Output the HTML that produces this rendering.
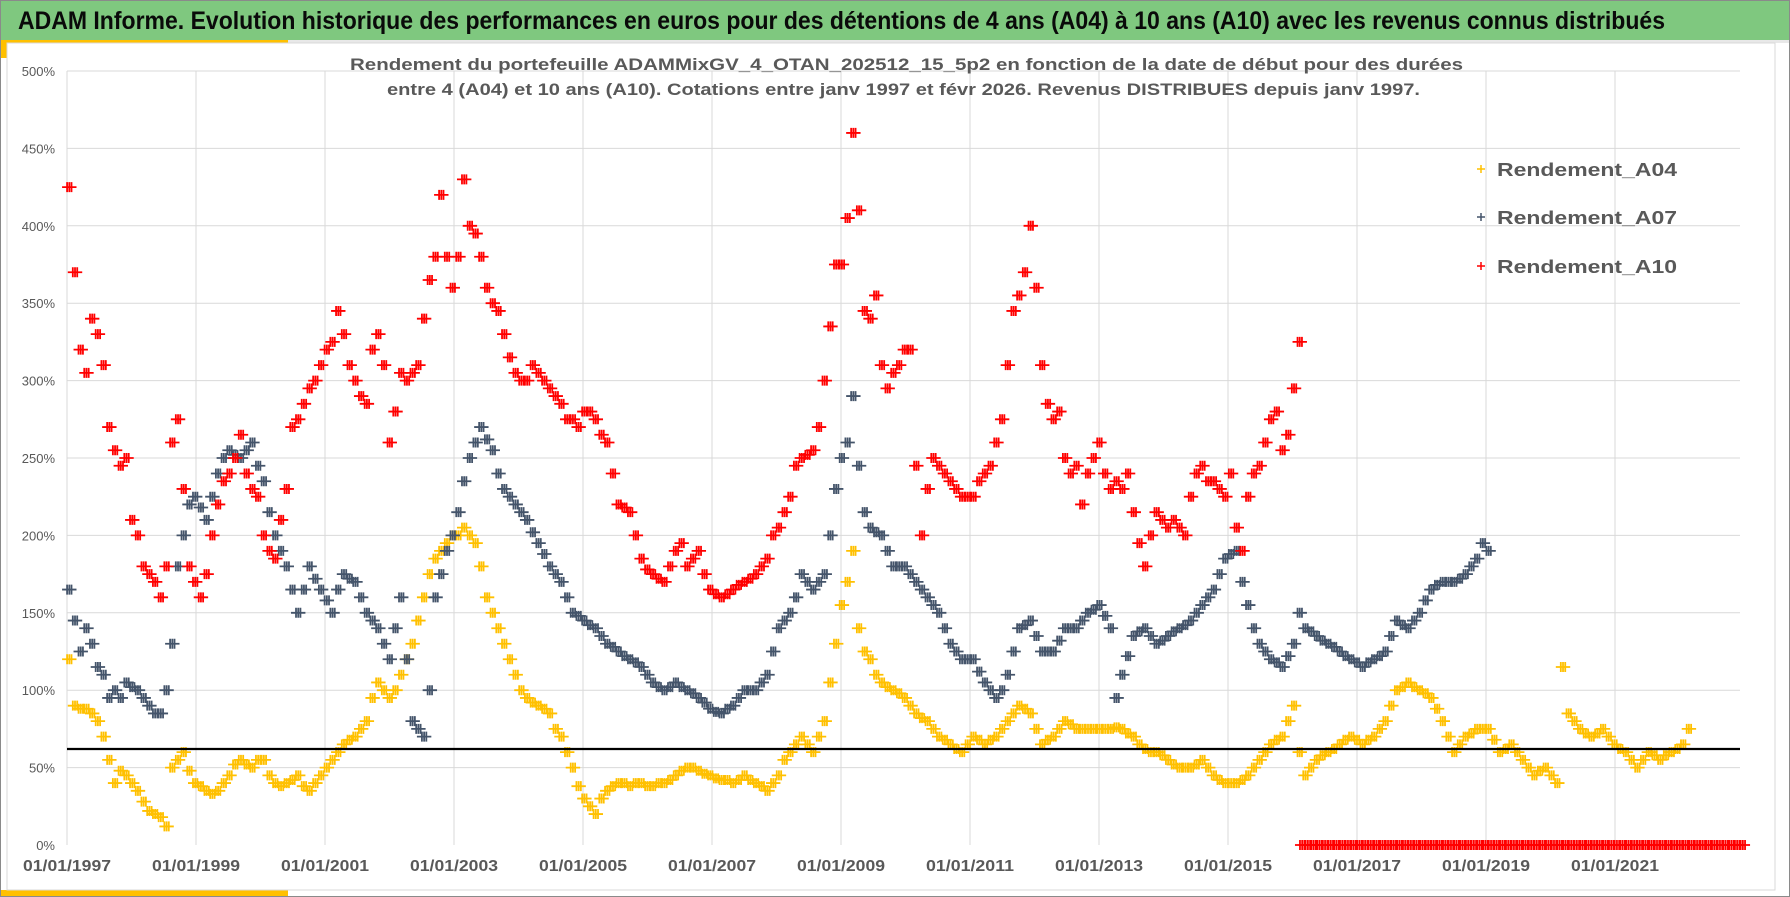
<!DOCTYPE html>
<html><head><meta charset="utf-8">
<style>
html,body{margin:0;padding:0;background:#fff;}
body{width:1790px;height:897px;overflow:hidden;font-family:"Liberation Sans",sans-serif;}
svg{display:block;}
</style></head>
<body>
<svg id="chart" width="1790" height="897" viewBox="0 0 1790 897" xmlns="http://www.w3.org/2000/svg">
  <rect x="0.5" y="0.5" width="1789" height="896" fill="#fff" stroke="#8a8a8a"/>
  <rect x="1" y="1" width="1788" height="39" fill="#7fc87f"/>
  <text x="18" y="29" font-size="25" font-weight="bold" fill="#0a0a0a" textLength="1647" lengthAdjust="spacingAndGlyphs">ADAM Informe. Evolution historique des performances en euros pour des détentions de 4 ans (A04) à 10 ans (A10) avec les revenus connus distribués</text>
  <rect x="1" y="40" width="1788" height="3" fill="#e8e8e8"/>
  <rect x="1" y="40" width="287" height="3" fill="#ffc000"/>
  <rect x="1" y="40" width="6" height="18" fill="#ffc000"/>
  <rect x="1" y="890" width="287" height="6" fill="#ffc000"/>
  <rect x="7" y="43" width="1768" height="847" fill="#fff" stroke="#d9d9d9"/>
  <g id="grid"></g>
  <g id="ylabels"></g>
  <g id="xlabels"></g>
  <text x="350" y="70" font-size="17" font-weight="bold" fill="#595959" textLength="1113" lengthAdjust="spacingAndGlyphs">Rendement du portefeuille ADAMMixGV_4_OTAN_202512_15_5p2  en fonction de la date de début pour des durées</text>
  <text x="387" y="95" font-size="17" font-weight="bold" fill="#595959" textLength="1033" lengthAdjust="spacingAndGlyphs">entre 4 (A04) et 10 ans (A10). Cotations  entre janv 1997 et févr 2026. Revenus DISTRIBUES depuis janv 1997.</text>
  <g id="marks"></g>
  <g id="legend"></g>
</svg>
<script>
// ---- chart data ----
const yTicks = [0,50,100,150,200,250,300,350,400,450,500];
const xTickYears = [1997,1999,2001,2003,2005,2007,2009,2011,2013,2015,2017,2019,2021];
const xTickLabels = ["01/01/1997","01/01/1999","01/01/2001","01/01/2003","01/01/2005","01/01/2007","01/01/2009","01/01/2011","01/01/2013","01/01/2015","01/01/2017","01/01/2019","01/01/2021"];
const seriesNames = ["Rendement_A04","Rendement_A07","Rendement_A10"];
const refLineValue = 62;
const sampleStart = 1997.0355;
const sampleStep = 0.08873;
const zeroStart = 2016.15;
const a04 = [120,90,88,88,85,80,70,55,40,48,45,40,35,28,22,20,18,12,50,55,60,48,40,38,35,33,35,40,45,52,55,52,50,55,55,45,40,38,40,42,45,38,35,40,45,50,55,60,65,68,70,75,80,95,105,100,95,100,110,120,130,145,160,175,185,190,195,200,200,205,200,195,180,160,150,140,130,120,110,100,95,92,90,88,85,75,70,60,50,38,30,25,20,30,35,38,40,40,38,40,40,38,38,40,40,42,45,48,50,50,48,46,45,43,42,42,40,42,45,42,40,38,35,40,45,55,60,65,70,65,60,70,80,105,130,155,170,190,140,125,120,110,105,102,100,98,95,90,85,82,80,75,70,68,65,62,60,65,70,68,65,68,70,75,80,85,90,88,85,75,65,68,70,75,80,78,75,75,75,75,75,75,75,76,75,72,70,65,62,60,60,58,55,52,50,50,50,52,55,50,45,42,40,40,40,42,45,50,55,60,65,68,70,80,90,60,45,50,55,58,60,62,65,68,70,68,65,68,70,75,80,90,100,102,105,102,100,98,95,88,80,70,60,65,70,72,75,75,75,68,60,62,65,60,55,50,45,48,50,45,40,115,85,80,75,72,70,72,75,70,65,62,60,55,50,55,60,58,55,58,60,62,65,75];
const a07 = [165,145,125,140,130,115,110,95,100,95,105,102,100,95,90,85,85,100,130,180,200,220,225,218,210,225,240,250,255,252,250,255,260,245,235,215,200,190,180,165,150,165,180,172,165,158,150,165,175,172,170,160,150,145,140,130,120,140,160,120,80,75,70,100,160,175,190,200,215,235,250,260,270,262,255,240,230,225,220,215,210,202,195,188,180,175,170,160,150,148,145,142,140,135,130,128,125,122,120,118,115,110,105,102,100,102,105,102,100,98,95,92,88,86,85,88,90,95,100,100,100,105,110,125,140,145,150,160,175,170,165,170,175,200,230,250,260,290,245,215,205,202,200,190,180,180,180,175,170,165,160,155,150,140,130,125,120,120,120,112,105,100,95,100,110,125,140,142,145,135,125,125,125,132,140,140,140,145,150,152,155,148,140,95,110,122,135,138,140,135,130,132,135,138,140,142,145,150,155,160,165,175,185,188,190,170,155,140,130,125,120,118,115,122,130,150,140,138,135,132,130,128,125,122,120,118,115,118,120,122,125,135,145,142,140,145,150,158,165,168,170,170,170,172,175,180,185,195,190];
const a10 = [425,370,320,305,340,330,310,270,255,245,250,210,200,180,175,170,160,180,260,275,230,180,170,160,175,200,220,235,240,250,265,240,230,225,200,190,185,210,230,270,275,285,295,300,310,320,325,345,330,310,300,290,285,320,330,310,260,280,305,300,305,310,340,365,380,420,380,360,380,430,400,395,380,360,350,345,330,315,305,300,300,310,305,300,295,290,285,275,275,270,280,280,275,265,260,240,220,218,215,200,185,178,175,172,170,180,190,195,180,185,190,175,165,162,160,162,165,168,170,172,175,180,185,200,205,215,225,245,250,252,255,270,300,335,375,375,405,460,410,345,340,355,310,295,305,310,320,320,245,200,230,250,245,240,235,230,225,225,225,235,240,245,260,275,310,345,355,370,400,360,310,285,275,280,250,240,245,220,240,250,260,240,230,235,230,240,215,195,180,200,215,210,205,210,205,200,225,240,245,235,235,230,225,240,205,190,225,240,245,260,275,280,255,265,295,325];
const a10Zero = [0,0,0,0,0,0,0,0,0,0,0,0,0,0,0,0,0,0,0,0,0,0,0,0,0,0,0,0,0,0,0,0,0,0,0,0,0,0,0,0,0,0,0,0,0,0,0,0,0,0,0,0,0,0,0,0,0,0,0,0,0,0,0,0,0,0,0,0,0,0,0,0,0,0,0,0,0,0];

// ---- axes ----
const X0 = 67, PX_PER_YEAR = 64.5, Y0 = 845, PX_PER_PCT = 1.548;
const PLOT_RIGHT = 1740;
function xScale(year){ return X0 + (year - 1997) * PX_PER_YEAR; }
function yScale(v){ return Y0 - v * PX_PER_PCT; }
const NS = "http://www.w3.org/2000/svg";
function mk(tag, attrs, parent){
  const el = document.createElementNS(NS, tag);
  for (const k in attrs) el.setAttribute(k, attrs[k]);
  parent.appendChild(el);
  return el;
}
const grid = document.getElementById('grid');
const ylab = document.getElementById('ylabels');
const xlab = document.getElementById('xlabels');
const marks = document.getElementById('marks');
const legend = document.getElementById('legend');

yTicks.forEach(t => {
  const y = yScale(t);
  if (t > 0) {
    const l = mk('line', {x1: X0, x2: PLOT_RIGHT, y1: y, y2: y, stroke: '#d9d9d9', 'stroke-width': 1}, grid);
    
    
  }
  const tx = mk('text', {x: 55, y: y + 5, 'font-size': 13, fill: '#595959', 'text-anchor': 'end'}, ylab);
  tx.textContent = t + '%';
  
  
});
xTickYears.forEach((yr, i) => {
  const x = xScale(yr);
  const l = mk('line', {x1: x, x2: x, y1: yScale(500), y2: Y0, stroke: '#d9d9d9', 'stroke-width': 1}, grid);
  
  
  const tx = mk('text', {x: x, y: 871, 'font-size': 16, 'font-weight': 'bold', fill: '#595959', 'text-anchor': 'middle', textLength: 88, lengthAdjust: 'spacingAndGlyphs'}, xlab);
  tx.textContent = xTickLabels[i];
  
  
});

function plus(x, y, s){ return 'M' + (x - s) + ' ' + y + 'h' + (2 * s) + 'M' + x + ' ' + (y - s) + 'v' + (2 * s); }
// each sample is drawn as a small cluster of "+" glyphs (visual density like weekly data)
const clusterOffsets = [-2.2, 0, 2.2];
function drawSeries(values, start, color, name){
  const g = mk('g', {stroke: color, 'stroke-width': 1.8, fill: 'none'}, marks);
  
  
  values.forEach((v, i) => {
    const cx = xScale(start + i * sampleStep), cy = yScale(v);
    let d = '';
    clusterOffsets.forEach(o => { d += plus(cx + o, cy, 5); });
    const p = mk('path', {d: d}, g);
    
    
  });
}
drawSeries(a04, sampleStart, '#ffc000', 'series-a04');
const ref = mk('line', {x1: X0, x2: PLOT_RIGHT, y1: yScale(refLineValue), y2: yScale(refLineValue), stroke: '#000', 'stroke-width': 2.2}, marks);


drawSeries(a07, sampleStart, '#44546a', 'series-a07');
drawSeries(a10, sampleStart, '#ff0000', 'series-a10');
drawSeries(a10Zero, zeroStart, '#ff0000', 'series-a10-zero');

const legendColors = ['#ffc000', '#44546a', '#ff0000'];
const legendY = [169, 217, 266];
seriesNames.forEach((n, i) => {
  const p = mk('path', {d: plus(1481, legendY[i], 4), stroke: legendColors[i], 'stroke-width': 1.5, fill: 'none'}, legend);
  
  
  const t = mk('text', {x: 1497, y: legendY[i] + 7, 'font-size': 18, 'font-weight': 'bold', fill: '#595959', textLength: 180, lengthAdjust: 'spacingAndGlyphs'}, legend);
  t.textContent = n;
  
  
});
</script>
</body></html>
